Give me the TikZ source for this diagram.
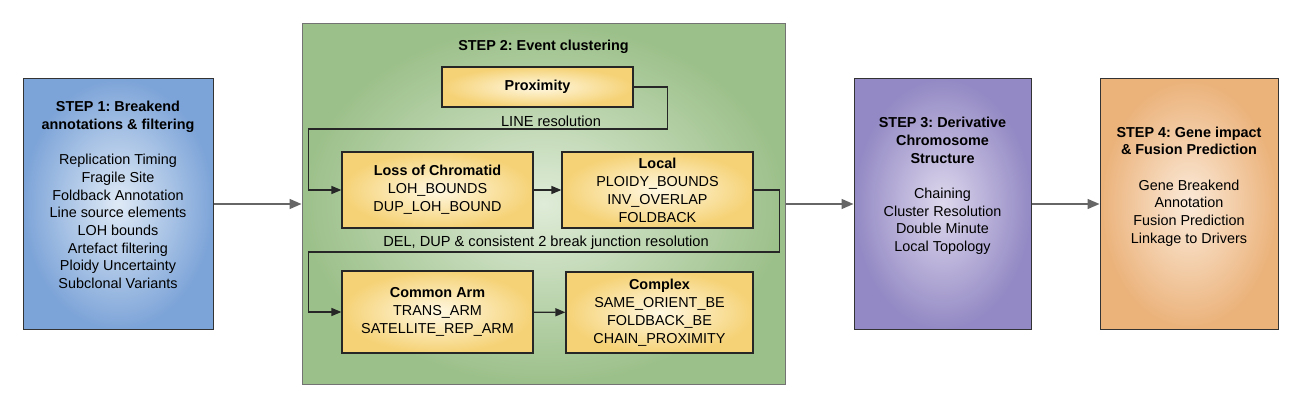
\documentclass[tikz,border=0pt]{standalone}
\usepackage{fontspec}
\setmainfont{Liberation Sans}
\usetikzlibrary{arrows.meta}
\frenchspacing

\definecolor{stepblue}{HTML}{7DA4D8}
\definecolor{stepbluec}{HTML}{DFEAF6}
\definecolor{stepgreen}{HTML}{9CC08A}
\definecolor{stepgreenc}{HTML}{DFECD8}
\definecolor{steppurple}{HTML}{9389C4}
\definecolor{steppurplec}{HTML}{DED8ED}
\definecolor{steporange}{HTML}{EBB27A}
\definecolor{steporangec}{HTML}{FBEAD9}
\definecolor{boxyellow}{HTML}{F5D276}
\definecolor{boxyellowc}{HTML}{FFF8E2}

\begin{document}
\begin{tikzpicture}[
    x=1pt,
    y=-1pt,
    stage/.style={
        draw=black!80,
        line width=1pt,
        inner sep=0pt,
        minimum width=190pt,
        minimum height=250pt
    },
    stagetext/.style={
        align=center,
        inner sep=0pt,
        font=\fontsize{14.4}{17.7}\selectfont
    },
    method/.style={
        draw=black!85,
        line width=1.2pt,
        shade,
        inner color=boxyellowc,
        outer color=boxyellow,
        align=center,
        inner sep=0pt,
        minimum width=191pt,
        minimum height=76pt,
        font=\fontsize{14.4}{18}\selectfont
    },
    note/.style={
        inner sep=1pt,
        font=\fontsize{14.6}{17}\selectfont
    },
    flow/.style={-{Triangle[length=12pt,width=10pt]}, line width=1.5pt, draw=black!60},
    link/.style={-{Triangle[length=10pt,width=8pt]}, line width=1.3pt, draw=black!85}
]
\useasboundingbox (0,0) rectangle (1299,409);

% the four steps
\node[stage, shade, inner color=stepbluec, outer color=stepblue] (step1) at (118,204) {};
\node[stage, draw=black!55, shade, inner color=stepgreenc, outer color=stepgreen,
      minimum width=483pt, minimum height=360pt] (step2) at (543.5,204) {};
\node[stage, shade, inner color=steppurplec, outer color=steppurple,
      minimum width=177pt] (step3) at (942.5,204) {};
\node[stage, shade, inner color=steporangec, outer color=steporange,
      minimum width=178pt] (step4) at (1189,204) {};

\node[stagetext] (step1txt) at ([yshift=9pt]step1.center)
    {\textbf{STEP 1: Breakend}\\\textbf{annotations \& filtering}\\[17.7pt]
     Replication Timing\\Fragile Site\\Foldback Annotation\\Line source elements\\
     LOH bounds\\Artefact filtering\\Ploidy Uncertainty\\Subclonal Variants};
\node[stagetext] (step2txt) at (543.5,47) {\textbf{STEP 2: Event clustering}};
\node[stagetext] (step3txt) at ([yshift=18pt]step3.center)
    {\textbf{STEP 3: Derivative}\\\textbf{Chromosome}\\\textbf{Structure}\\[17.7pt]
     Chaining\\Cluster Resolution\\Double Minute\\Local Topology};
\node[stagetext] (step4txt) at ([yshift=17.5pt]step4.center)
    {\textbf{STEP 4: Gene impact}\\\textbf{\& Fusion Prediction}\\[17.7pt]
     Gene Breakend\\Annotation\\Fusion Prediction\\Linkage to Drivers};

% clustering rules inside step 2
\node[method, minimum height=40pt] (prox) at (537.5,87) {\textbf{Proximity}};
\node[method] (loss) at (437.5,190) {\textbf{Loss of Chromatid}\\LOH\_BOUNDS\\DUP\_LOH\_BOUND};
\node[method] (local) at (657.5,190) {\textbf{Local}\\PLOIDY\_BOUNDS\\INV\_OVERLAP\\FOLDBACK};
\node[method, minimum height=82pt] (arm) at (437.5,312) {\textbf{Common Arm}\\TRANS\_ARM\\SATELLITE\_REP\_ARM};
\node[method, minimum width=187pt, minimum height=81pt] (complex) at (659.5,312.5)
    {\textbf{Complex}\\SAME\_ORIENT\_BE\\FOLDBACK\_BE\\CHAIN\_PROXIMITY};

\node[note] (lineres) at (551,121.5) {LINE resolution};
\node[note] (delres) at (546,243) {DEL, DUP \& consistent 2 break junction resolution};

\draw[link] (prox.east) -| ++(34,42) -| ++(-359,61) -- (loss.west);
\draw[link] (loss) -- (local);
\draw[link] (local.east) -| ++(26,62) -| ++(-471,60) -- (arm.west);
\draw[link] (arm) -- (complex);

\draw[flow] (step1) -- (step2);
\draw[flow] (step2) -- (step3);
\draw[flow] (step3) -- (step4);

\end{tikzpicture}
\end{document}
